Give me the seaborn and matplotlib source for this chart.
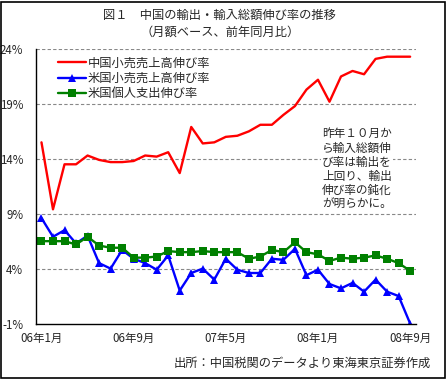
import numpy as np
import pandas as pd
import matplotlib
matplotlib.use("Agg")
import matplotlib.pyplot as plt
import seaborn as sns

# monthly data, 06年1月 .. 08年9月 (33 months)
months = np.arange(33)
china_retail = [15.5, 9.4, 13.5, 13.5, 14.3, 13.9, 13.7, 13.7, 13.8, 14.3, 14.2,
                14.6, 12.7, 16.9, 15.4, 15.5, 16.0, 16.1, 16.5, 17.1, 17.1, 18.0,
                18.8, 20.3, 21.2, 19.2, 21.5, 22.0, 21.7, 23.1, 23.3, 23.3, 23.3]
us_retail = [8.6, 6.9, 7.5, 6.3, 7.0, 4.5, 4.0, 5.7, 4.9, 4.5, 3.9, 5.2, 2.0,
             3.6, 4.0, 3.0, 4.9, 3.9, 3.6, 3.6, 4.9, 4.8, 5.8, 3.4, 3.9, 2.6,
             2.2, 2.7, 1.9, 3.0, 1.9, 1.5, -1.0]
us_spending = [6.5, 6.5, 6.5, 6.2, 6.9, 6.1, 5.9, 5.9, 5.0, 5.0, 5.1, 5.6, 5.5,
               5.5, 5.6, 5.5, 5.5, 5.5, 4.9, 5.1, 5.7, 5.5, 6.4, 5.5, 5.3, 4.7,
               5.0, 4.9, 5.0, 5.2, 4.9, 4.5, 3.8]
names = ["中国小売売上高伸び率", "米国小売売上高伸び率", "米国個人支出伸び率"]
xlabels = ["06年1月", "06年9月", "07年5月", "08年1月", "08年9月"]
yticks = [-1, 4, 9, 14, 19, 24]

sns.set_style("white")
plt.rcParams["font.family"] = ["Noto Sans CJK JP", "DejaVu Sans"]

fig = plt.figure(figsize=(4.47, 3.79), dpi=100)
ax = fig.add_axes([0.0799, 0.1464, 0.8505, 0.7243])

df = pd.DataFrame({"m": months, "a": china_retail, "b": us_retail, "c": us_spending})
sns.lineplot(data=df, x="m", y="a", ax=ax, color="#FF0000", lw=1.7, label=names[0])
sns.lineplot(data=df, x="m", y="b", ax=ax, color="#0000FF", lw=1.7, marker="^",
             markersize=6, markeredgewidth=0, label=names[1])
sns.lineplot(data=df, x="m", y="c", ax=ax, color="#008000", lw=1.7, marker="s",
             markersize=5.2, markeredgewidth=0, label=names[2])

ax.set_xlim(-0.5, 32.5)
ax.set_ylim(-1, 24)
ax.set_xlabel("")
ax.set_ylabel("")

ax.set_xticks(np.arange(-0.5, 32, 8))
ax.set_xticklabels([])
ax.set_xticks(np.arange(0, 33, 8), minor=True)
ax.set_xticklabels(xlabels, minor=True, fontsize=8.3)
ax.tick_params(axis="x", which="major", direction="in", length=3, width=0.8, color="black")
ax.tick_params(axis="x", which="minor", length=0, pad=6)

ax.set_yticks(yticks)
ax.set_yticklabels([f"{v}%" for v in yticks], fontsize=8.3)
ax.tick_params(axis="y", length=0, pad=9)
for v in yticks[1:]:
    ax.axhline(v, color="#888888", ls=(0, (3, 2)), lw=0.8, zorder=0)

for s in ["top", "right"]:
    ax.spines[s].set_visible(False)
for s in ["left", "bottom"]:
    ax.spines[s].set_color("black")
    ax.spines[s].set_linewidth(1)

leg = ax.legend(loc="upper left", bbox_to_anchor=(0.04, 1.0), frameon=False,
                fontsize=8.8, handlelength=2.3, handletextpad=0.1,
                labelspacing=0.2, borderaxespad=0.2)

ax.text(0.753, 0.715, "昨年１０月か\nら輸入総額伸\nび率は輸出を\n上回り、輸出\n伸び率の鈍化\nが明らかに。",
        transform=ax.transAxes, fontsize=8.4, va="top", ha="left", linespacing=1.12,
        bbox=dict(facecolor="white", edgecolor="none", pad=1))

fig.text(0.492, 0.96, "図１　中国の輸出・輸入総額伸び率の推移", ha="center", va="center", fontsize=8.8)
fig.text(0.492, 0.915, "（月額ベース、前年同月比）", ha="center", va="center", fontsize=8.8)
fig.text(0.963, 0.042, "出所：中国税関のデータより東海東京証券作成", ha="right", va="center", fontsize=8.8)

fig.patches.append(plt.Rectangle((0.002, 0.003), 0.994, 0.993, transform=fig.transFigure,
                                 fill=False, edgecolor="black", lw=1.2))

fig.savefig("out.png", dpi=100)
